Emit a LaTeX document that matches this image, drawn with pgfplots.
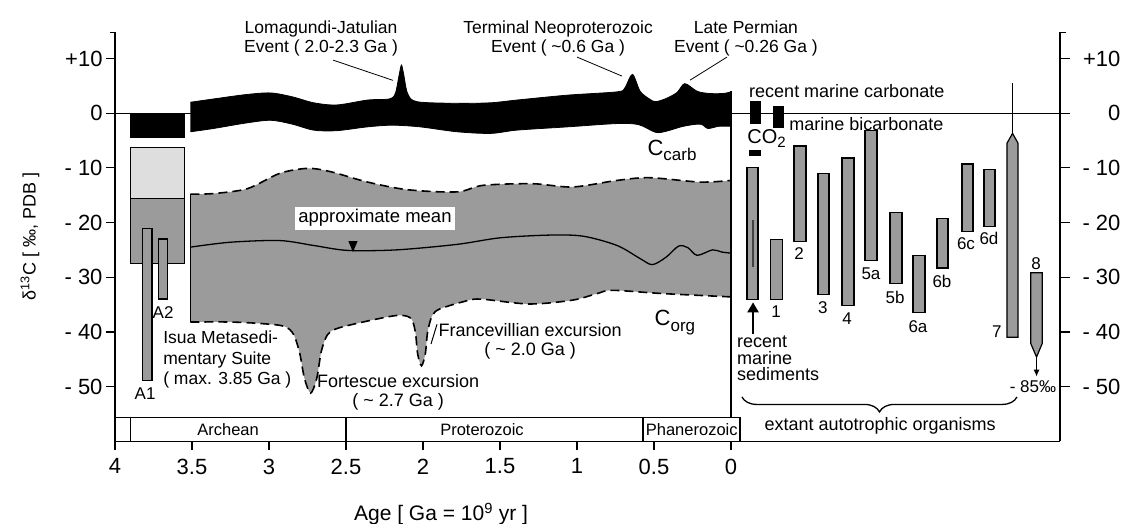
\documentclass[border=0pt]{standalone}
\usepackage{fontspec}
\setmainfont{Liberation Sans}
\usepackage{pgfplots}
\pgfplotsset{compat=1.18}
\usepgfplotslibrary{fillbetween}
\usetikzlibrary{arrows.meta,decorations.pathreplacing}
\definecolor{cgray}{RGB}{155,155,155}
\definecolor{cdot}{RGB}{222,222,222}
\newcommand{\fs}[2]{\fontsize{#1}{#2}\selectfont}
\begin{document}
\begin{tikzpicture}
\pgfplotsset{common/.style={scale only axis, width=945pt, height=409pt,
  x dir=reverse, xmin=-2.136, xmax=4, ymin=-60, ymax=14.8,
  axis line style={-,line width=1.3pt}, tick align=outside,
  tick style={line width=1.3pt,black},
  ytick={-50,-40,-30,-20,-10,0,10},
  yticklabels={- 50,- 40,- 30,- 20,- 10,0,+10},
  ticklabel style={font=\fs{22}{25}}, clip=false}}
\begin{axis}[common, set layers,
  axis x line*=bottom, axis y line*=left, major tick length=9pt,
  xtick={0,0.5,1,1.5,2,2.5,3,3.5,4},
  xticklabels={0,0.5,1,1.5,2,2.5,3,3.5,4},
  xticklabel style={yshift=-5pt},
  ylabel={δ\textsuperscript{13}C [ ‰, PDB ]},
  ylabel style={at={(axis description cs:-0.0899,0.5)}, anchor=center, rotate=0, font=\fs{18}{22}}]
% zero line
\addplot[black, line width=0.9pt] coordinates {(4,0) (-2.136,0)};
% C carb band
\addplot[name path=ct, black, line width=0.8pt, smooth] coordinates {
(3.51,2.0) (3.36,2.6) (3.15,3.4) (2.99,3.7) (2.85,3.0) (2.71,1.9) (2.56,1.5) (2.36,2.4) (2.22,2.6) (2.18,3.6) (2.155,7.0) (2.14,8.8) (2.125,7.0) (2.10,3.6) (2.04,2.1) (1.78,1.8) (1.56,1.9) (1.39,2.4) (1.06,3.3) (0.74,3.9) (0.69,4.6) (0.64,7.1) (0.59,4.0) (0.53,2.6) (0.49,2.1) (0.42,2.7) (0.35,3.8) (0.30,5.4) (0.22,4.0) (0.14,3.6) (0.05,3.6) (0,3.9)};
\addplot[name path=cb, black, line width=0.8pt, smooth] coordinates {
(3.51,-3.4) (3.36,-2.8) (3.15,-1.8) (2.99,-1.3) (2.85,-2.0) (2.71,-3.1) (2.56,-3.2) (2.36,-2.5) (2.2,-2.2) (2.02,-2.5) (1.78,-3.4) (1.56,-3.7) (1.39,-3.1) (1.06,-2.5) (0.74,-1.9) (0.6,-2.1) (0.49,-3.5) (0.42,-3.3) (0.31,-2.4) (0.2,-2.0) (0.15,-2.8) (0.08,-2.4) (0,-2.4)};
\addplot[black] fill between[of=ct and cb];
% C org band
\addplot[name path=cu, black, line width=1.6pt, dash pattern=on 9pt off 5pt, smooth] coordinates {
(3.51,-14.8) (3.36,-14.7) (3.14,-13.8) (2.93,-11.0) (2.75,-10.1) (2.60,-10.7) (2.36,-12.6) (2.10,-14.0) (1.78,-14.4) (1.61,-13.2) (1.29,-12.9) (1.03,-13.5) (0.74,-12.3) (0.53,-11.8) (0.20,-12.6) (0,-12.3)};
\addplot[name path=cl, black, line width=1.6pt, dash pattern=on 9pt off 5pt, smooth] coordinates {
(3.51,-38.2) (3.25,-38.2) (3.04,-38.5) (2.90,-39.0) (2.84,-40.5) (2.80,-44) (2.77,-48.5) (2.73,-51.2) (2.69,-48.5) (2.66,-43.5) (2.62,-40.5) (2.56,-39.4) (2.39,-38.2) (2.17,-37.0) (2.08,-37.5) (2.05,-40) (2.035,-44) (2.01,-46.2) (1.985,-44) (1.97,-40) (1.94,-37) (1.89,-35.8) (1.74,-34.5) (1.63,-34.0) (1.31,-34.9) (1.03,-34.2) (0.87,-33.0) (0.77,-32.4) (0.44,-33.0) (0,-33.6)};
\addplot[cgray] fill between[of=cu and cl];
\addplot[black, line width=1.2pt] coordinates {(3.51,-14.8) (3.51,-38.2)};
% approximate mean
\addplot[black, line width=1.3pt, smooth] coordinates {
(3.51,-24.5) (3.25,-23.6) (2.93,-23.3) (2.71,-24.2) (2.49,-25.1) (2.17,-25.0) (1.78,-24.0) (1.50,-22.8) (1.18,-22.3) (0.96,-22.5) (0.74,-24.2) (0.59,-26.6) (0.51,-27.7) (0.42,-26.3) (0.34,-24.3) (0.28,-24.6) (0.22,-26.0) (0.12,-25.0) (0.06,-25.4) (0,-25.6)};
% Archean boxes
\addplot[fill=black, draw=black] coordinates {(3.90,0) (3.55,0) (3.55,-4.4) (3.90,-4.4)} -- cycle;
\addplot[fill=cdot, draw=black, line width=1pt] coordinates {(3.90,-6.2) (3.55,-6.2) (3.55,-15.6) (3.90,-15.6)} -- cycle;
\addplot[fill=cgray, draw=black, line width=1pt] coordinates {(3.90,-15.6) (3.55,-15.6) (3.55,-27.5) (3.90,-27.5)} -- cycle;
\addplot[fill=cgray, draw=black, line width=1.2pt] coordinates {(3.82,-21.1) (3.76,-21.1) (3.76,-48.9) (3.82,-48.9)} -- cycle;
\addplot[fill=cgray, draw=black, line width=1.2pt] coordinates {(3.72,-23.0) (3.66,-23.0) (3.66,-34.0) (3.72,-34.0)} -- cycle;
% panel separator and era bar
\draw[line width=1.3pt] (axis cs:0,4) -- (axis cs:0,-55.7);
\draw[line width=1.3pt] (axis cs:4,-55.7) -- (axis cs:-0.058,-55.7) -- (axis cs:-0.058,-60);
\draw[line width=1.3pt] (axis cs:3.9,-55.7) -- (axis cs:3.9,-60);
\draw[line width=1.3pt] (axis cs:2.5,-55.7) -- (axis cs:2.5,-60);
\draw[line width=1.3pt] (axis cs:0.571,-55.7) -- (axis cs:0.571,-60);
\node[font=\fs{16.5}{18}] at (axis cs:3.266,-57.85) {Archean};
\node[font=\fs{16.5}{18}] at (axis cs:1.617,-57.85) {Proterozoic};
\node[font=\fs{16.5}{18}] at (axis cs:0.255,-57.85) {Phanerozoic};
% right panel: black rectangles
\addplot[fill=black, draw=black] coordinates {(-0.123,2.1) (-0.188,2.1) (-0.188,-1.9) (-0.123,-1.9)} -- cycle;
\addplot[fill=black, draw=black] coordinates {(-0.271,1.3) (-0.340,1.3) (-0.340,-2.5) (-0.271,-2.5)} -- cycle;
\addplot[fill=black, draw=black] coordinates {(-0.117,-6.8) (-0.188,-6.8) (-0.188,-7.7) (-0.117,-7.7)} -- cycle;
% right panel: bars
\addplot[fill=cgray, draw=black, line width=1.2pt] coordinates {(-0.104,-9.9) (-0.175,-9.9) (-0.175,-34.1) (-0.104,-34.1)} -- cycle;
\addplot[black!75, line width=2pt] coordinates {(-0.140,-19.6) (-0.140,-28.2)};
\addplot[fill=cgray, draw=black, line width=1.2pt] coordinates {(-0.258,-23.1) (-0.333,-23.1) (-0.333,-34.1) (-0.258,-34.1)} -- cycle;
\addplot[fill=cgray, draw=black, line width=1.2pt] coordinates {(-0.409,-6.0) (-0.487,-6.0) (-0.487,-23.4) (-0.409,-23.4)} -- cycle;
\addplot[fill=cgray, draw=black, line width=1.2pt] coordinates {(-0.565,-11.0) (-0.636,-11.0) (-0.636,-33.2) (-0.565,-33.2)} -- cycle;
\addplot[fill=cgray, draw=black, line width=1.2pt] coordinates {(-0.721,-8.2) (-0.799,-8.2) (-0.799,-35.2) (-0.721,-35.2)} -- cycle;
\addplot[fill=cgray, draw=black, line width=1.2pt] coordinates {(-0.870,-3.1) (-0.948,-3.1) (-0.948,-26.9) (-0.870,-26.9)} -- cycle;
\addplot[fill=cgray, draw=black, line width=1.2pt] coordinates {(-1.032,-18.1) (-1.110,-18.1) (-1.110,-31.2) (-1.032,-31.2)} -- cycle;
\addplot[fill=cgray, draw=black, line width=1.2pt] coordinates {(-1.182,-26.0) (-1.260,-26.0) (-1.260,-36.4) (-1.182,-36.4)} -- cycle;
\addplot[fill=cgray, draw=black, line width=1.2pt] coordinates {(-1.338,-19.3) (-1.409,-19.3) (-1.409,-28.3) (-1.338,-28.3)} -- cycle;
\addplot[fill=cgray, draw=black, line width=1.2pt] coordinates {(-1.500,-9.3) (-1.571,-9.3) (-1.571,-21.7) (-1.500,-21.7)} -- cycle;
\addplot[fill=cgray, draw=black, line width=1.2pt] coordinates {(-1.643,-10.3) (-1.714,-10.3) (-1.714,-20.8) (-1.643,-20.8)} -- cycle;
\addplot[black, line width=1.3pt] coordinates {(-1.828,-3.7) (-1.828,5.5)};
\addplot[fill=cgray, draw=black, line width=1.2pt] coordinates {(-1.792,-41.0) (-1.864,-41.0) (-1.864,-5.5) (-1.828,-3.7) (-1.792,-5.5)} -- cycle;
\addplot[fill=cgray, draw=black, line width=1.2pt] coordinates {(-1.946,-29.2) (-2.021,-29.2) (-2.021,-42.1) (-1.984,-44.6) (-1.946,-42.1)} -- cycle;
\draw[-{Latex[length=7pt,width=6pt]}, line width=1.2pt] (axis cs:-1.984,-44.6) -- (axis cs:-1.984,-48.2);
\draw[-{Triangle[length=10pt,width=11pt]}, line width=2.2pt] (axis cs:-0.143,-40.3) -- (axis cs:-0.143,-34.6);
\draw[decorate, decoration={brace, mirror, amplitude=15pt}, line width=1.3pt] (axis cs:-0.071,-51.9) -- (axis cs:-1.857,-51.9);
% right panel labels
\node[anchor=west, font=\fs{18}{20}, inner sep=0pt] at (axis cs:-0.117,4.0) {recent marine carbonate};
\node[anchor=west, font=\fs{18}{20}, inner sep=0pt] at (axis cs:-0.377,-2.0) {marine bicarbonate};
\node[anchor=west, font=\fs{20}{22}, inner sep=0pt] at (axis cs:-0.105,-4.6) {CO\raisebox{-0.35ex}{\fs{15}{16}2}};
\node[anchor=north west, align=left, font=\fs{18}{16.5}, inner sep=0pt] at (axis cs:-0.039,-40.7) {recent\\marine\\sediments};
\node[font=\fs{17}{19}] at (axis cs:-0.292,-36.3) {1};
\node[font=\fs{17}{19}] at (axis cs:-0.442,-25.6) {2};
\node[font=\fs{17}{19}] at (axis cs:-0.597,-35.5) {3};
\node[font=\fs{17}{19}] at (axis cs:-0.753,-37.5) {4};
\node[font=\fs{17}{19}] at (axis cs:-0.909,-29.3) {5a};
\node[font=\fs{17}{19}] at (axis cs:-1.065,-33.7) {5b};
\node[font=\fs{17}{19}] at (axis cs:-1.214,-39.0) {6a};
\node[font=\fs{17}{19}] at (axis cs:-1.370,-30.8) {6b};
\node[font=\fs{17}{19}] at (axis cs:-1.526,-23.8) {6c};
\node[font=\fs{17}{19}] at (axis cs:-1.675,-22.9) {6d};
\node[font=\fs{17}{19}] at (axis cs:-1.727,-39.9) {7};
\node[font=\fs{17}{19}] at (axis cs:-1.981,-27.5) {8};
\node[font=\fs{17}{19}] at (axis cs:-1.961,-50.0) {- 85‰};
\node[font=\fs{18}{20}] at (axis cs:-0.968,-57.1) {extant autotrophic organisms};
% left panel labels
\node[align=center, font=\fs{17.5}{19.5}] at (axis cs:2.662,13.7) {Lomagundi-Jatulian\\Event ( 2.0-2.3 Ga )};
\draw[line width=0.8pt] (axis cs:2.584,9.7) -- (axis cs:2.195,6.0);
\node[align=center, font=\fs{17.5}{19.5}] at (axis cs:1.123,13.7) {Terminal Neoproterozoic\\Event ( \textasciitilde0.6 Ga )};
\draw[line width=0.8pt] (axis cs:1.0,10.26) -- (axis cs:0.708,6.78);
\node[align=center, font=\fs{17.5}{19.5}] at (axis cs:-0.097,13.7) {Late Permian\\Event ( \textasciitilde0.26 Ga )};
\draw[line width=0.8pt] (axis cs:0.026,10.26) -- (axis cs:0.266,6.04);
\node[font=\fs{22}{24}] at (axis cs:0.383,-6.8) {C\raisebox{-0.45ex}{\fs{17}{19}carb}};
\node[font=\fs{22}{24}] at (axis cs:0.364,-38.3) {C\raisebox{-0.45ex}{\fs{17}{19}org}};
\node[fill=white, inner sep=3pt, font=\fs{18.5}{20}] at (axis cs:2.312,-19.2) {approximate mean};
\fill (axis cs:2.485,-23.4) -- (axis cs:2.425,-23.4) -- (axis cs:2.455,-25.4) -- cycle;
\node[align=center, font=\fs{18}{19}] at (axis cs:1.305,-41.8) {Francevillian excursion\\( \textasciitilde\ 2.0 Ga )};
\draw[line width=1pt] (axis cs:1.909,-38.6) -- (axis cs:1.948,-42.2);
\node[align=center, font=\fs{18}{19.5}] at (axis cs:2.162,-51.1) {Fortescue excursion\\( \textasciitilde\ 2.7 Ga )};
\node[anchor=west, align=left, font=\fs{17.5}{20.5}, inner sep=0pt] at (axis cs:3.688,-45.1) {Isua Metasedi-\\mentary Suite\\( max. 3.85 Ga )};
\node[font=\fs{17}{19}] at (axis cs:3.805,-51.3) {A1};
\node[font=\fs{17}{19}] at (axis cs:3.688,-36.4) {A2};
% axis title
\node[font=\fs{21}{24}] at (axis cs:1.883,-73.3) {Age [ Ga = 10\textsuperscript{9} yr ]};
\draw[line width=1.3pt] (axis cs:4,14.8) -- ([xshift=-5pt]axis cs:4,14.8);
\draw[line width=1.3pt] (axis cs:-2.136,14.8) -- ([xshift=6pt]axis cs:-2.136,14.8);
\coordinate (BBL) at (axis cs:4.747,-75.09);
\coordinate (BTR) at (axis cs:-2.539,20.70);
\end{axis}
\begin{axis}[common, axis x line=none, axis y line*=right, major tick length=10pt,
  yticklabel style={anchor=east, xshift=54pt}]
\end{axis}
\pgfresetboundingbox
\path (BBL) rectangle (BTR);
\end{tikzpicture}
\end{document}
